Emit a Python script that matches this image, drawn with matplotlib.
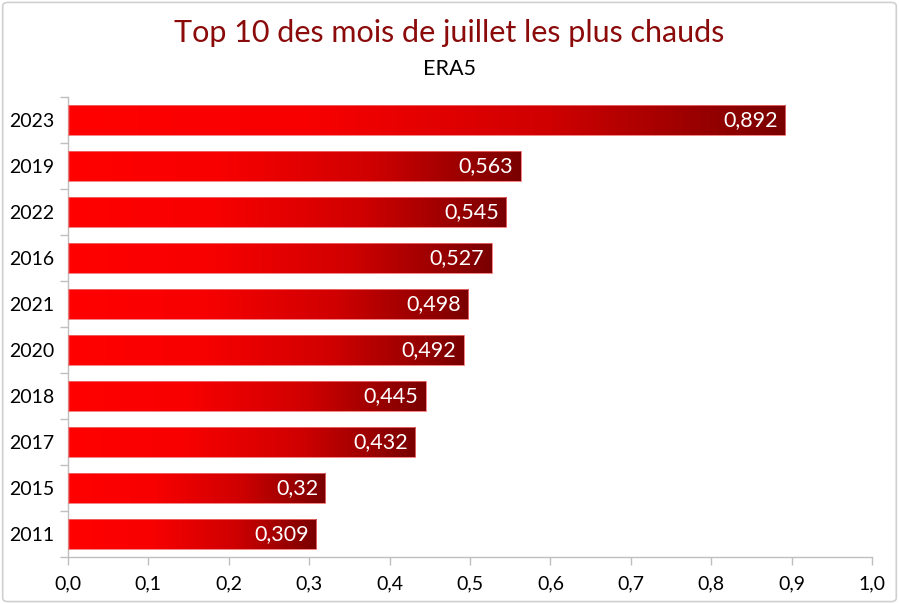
import matplotlib
matplotlib.use("Agg")
import matplotlib.pyplot as plt
import numpy as np
from matplotlib.colors import LinearSegmentedColormap
from matplotlib.patches import FancyBboxPatch, Rectangle

years = ["2023", "2019", "2022", "2016", "2021", "2020", "2018", "2017", "2015", "2011"]
anomalies = [0.892, 0.563, 0.545, 0.527, 0.498, 0.492, 0.445, 0.432, 0.32, 0.309]
x_ticks = [0.0, 0.1, 0.2, 0.3, 0.4, 0.5, 0.6, 0.7, 0.8, 0.9, 1.0]

plt.rcParams['font.family'] = ['Lato', 'DejaVu Sans']

fig = plt.figure(figsize=(8.99, 6.04), dpi=100)
ax = fig.add_axes([0.0756, 0.0778, 0.8944, 0.7616])

# gradient per bar: bright red on the left, dark red at the bar's end
cmap = LinearSegmentedColormap.from_list("hot_red", ["#ff0000", "#f80000", "#d00000", "#7a0000"])
grad = np.linspace(0, 1, 256).reshape(1, -1)
bar_h = 0.65

for i, (yr, v) in enumerate(zip(years, anomalies)):
    y = i
    ax.imshow(grad, cmap=cmap, aspect='auto', interpolation='bicubic',
              extent=[0, v, y + bar_h / 2, y - bar_h / 2], zorder=2)
    ax.add_patch(Rectangle((0, y - bar_h / 2), v, bar_h, fill=False,
                           edgecolor="#f07070", lw=0.6, zorder=3))
    label = f"{v:g}".replace(".", ",")
    ax.text(v - 0.009, y, label, ha='right', va='center', color='white',
            fontsize=15.5, zorder=4)

ax.set_xlim(0, 1.0)
ax.set_ylim(9.5, -0.5)
ax.set_xticks(x_ticks)
ax.set_xticklabels([f"{t:.1f}".replace(".", ",") for t in x_ticks], fontsize=14)
ax.set_yticks(range(len(years)))
ax.set_yticklabels(years, fontsize=14)
# tick marks between categories on the y axis
ax.set_yticks(np.arange(-0.5, len(years), 1), minor=True)
ax.tick_params(axis='y', which='major', length=0, pad=10)
ax.tick_params(axis='y', which='minor', length=6, color='#bfbfbf', width=1)
ax.tick_params(axis='x', length=6, color='#bfbfbf', width=1, pad=7)

for s in ['top', 'right']:
    ax.spines[s].set_visible(False)
for s in ['left', 'bottom']:
    ax.spines[s].set_color('#bfbfbf')
    ax.spines[s].set_linewidth(1)

fig.text(0.5, 0.945, "Top 10 des mois de juillet les plus chauds", ha='center', va='center',
         fontsize=22, color='#8b0a0a')
fig.text(0.5, 0.885, "ERA5", ha='center', va='center', fontsize=15.5, color='black')

# rounded border around the chart
fig.patches.append(FancyBboxPatch((0.003, 0.004), 0.994, 0.992,
                                  boxstyle="round,pad=0,rounding_size=0.006",
                                  transform=fig.transFigure, fill=False,
                                  edgecolor='#d0d0d0', lw=1.2))

fig.savefig("out.png", dpi=100)
